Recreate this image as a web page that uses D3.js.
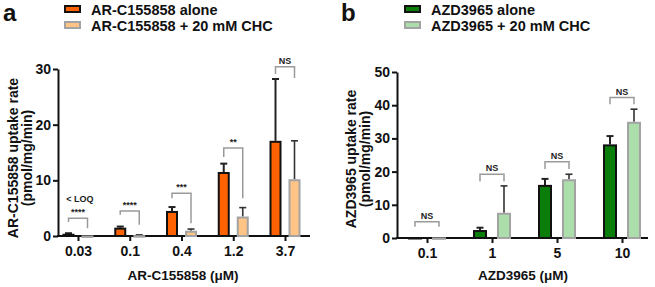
<!DOCTYPE html>
<html>
<head>
<meta charset="utf-8">
<script src="https://cdn.jsdelivr.net/npm/d3@7"></script>
<style>
  body { margin: 0; background: #fff; }
  svg { display: block; font-family: "Liberation Sans", Arial, sans-serif; font-weight: bold; }
</style>
</head>
<body>
<svg id="drawing_region" width="655" height="287"></svg>
<script>
// panel a : AR-C155858
const arCats = ['0.03', '0.1', '0.4', '1.2', '3.7'];
const arAlone = [0.4, 1.5, 4.5, 11.5, 17.1];
const arAloneErr = [0.1, 0.2, 0.7, 1.5, 11.1];
const arChc = [0.1, 0.15, 0.95, 3.5, 10.2];
const arChcErr = [0, 0.05, 0.3, 1.6, 6.9];
const arSig = ['****', '****', '***', '**', 'NS'];
const arSigLevel = [3.2, 4.5, 7.7, 15.8, 30.4];
const arSigLeft = [2.5, 3.8, 6.8, 14.2, 29.1];
const arSigRight = [1.4, 2.0, 2.3, 6.8, 28.4];
const arTicks = [0, 10, 20, 30];

// panel b : AZD3965
const azCats = ['0.1', '1', '5', '10'];
const azAlone = [0.3, 2.4, 16.0, 28.2];
const azAloneErr = [0, 0.7, 1.8, 2.5];
const azChc = [0.2, 7.6, 17.7, 35.0];
const azChcErr = [0, 8.1, 1.5, 3.8];
const azSig = ['NS', 'NS', 'NS', 'NS'];
const azSigLevel = [4.9, 19.2, 23.0, 42.3];
const azSigLeft = [3.4, 17.0, 20.8, 40.3];
const azSigRight = [3.4, 17.0, 20.8, 40.3];
const azTicks = [0, 10, 20, 30, 40, 50];

class BarPanel {
    constructor( config ) {
        this.c = config;
        this.svg = d3.select('#drawing_region');
        this.render();
    }
    render() {
        let self = this;
        const c = self.c;
        const g = self.svg.append('g');

        const xscale = d3.scalePoint().domain(c.cats).range(c.xRange);
        const yscale = d3.scaleLinear().domain(c.yDomain).range(c.yRange);

        // y axis
        const yaxis = d3.axisLeft(yscale).tickValues(c.ticks).tickSize(5).tickSizeOuter(0).tickPadding(2);
        const yg = g.append('g').attr('transform', `translate(${c.axisX},0)`).call(yaxis);
        yg.selectAll('path, line').attr('stroke', '#111').attr('stroke-width', 2);
        yg.selectAll('text').attr('font-size', 14).attr('fill', '#111');

        // x axis
        const xaxis = d3.axisBottom(xscale).tickSize(5).tickPadding(5);
        const xg = g.append('g').attr('transform', `translate(0,${c.yRange[0]})`).call(xaxis);
        xg.select('.domain').remove();
        xg.selectAll('line').attr('stroke', '#111').attr('stroke-width', 2);
        xg.selectAll('text').attr('font-size', 14).attr('fill', '#111');
        g.append('line')
            .attr('x1', c.axisX - 1).attr('x2', c.axisEnd)
            .attr('y1', c.yRange[0]).attr('y2', c.yRange[0])
            .attr('stroke', '#111').attr('stroke-width', 2);

        const series = [
            { vals: c.alone, errs: c.aloneErr, fill: c.fill1, stroke: '#111', dx: -c.offset, ew: 2, ec: '#222' },
            { vals: c.chc, errs: c.chcErr, fill: c.fill2, stroke: '#a3a3a3', dx: c.offset, ew: 1.6, ec: '#333' }
        ];

        series.forEach( s => {
            const data = c.cats.map( (k, i) => ({ k: k, v: s.vals[i], e: s.errs[i] }) );
            // error bars
            const eb = g.append('g').selectAll('g').data(data.filter(d => d.e > 0)).enter().append('g');
            eb.append('line')
                .attr('x1', d => xscale(d.k) + s.dx).attr('x2', d => xscale(d.k) + s.dx)
                .attr('y1', d => yscale(d.v)).attr('y2', d => yscale(d.v + d.e))
                .attr('stroke', s.ec).attr('stroke-width', s.ew);
            eb.append('line')
                .attr('x1', d => xscale(d.k) + s.dx - 3.5).attr('x2', d => xscale(d.k) + s.dx + 3.5)
                .attr('y1', d => yscale(d.v + d.e)).attr('y2', d => yscale(d.v + d.e))
                .attr('stroke', s.ec).attr('stroke-width', s.ew);
            // bars
            g.append('g').selectAll('rect').data(data).enter().append('rect')
                .attr('x', d => xscale(d.k) + s.dx - c.barW / 2 + 1)
                .attr('width', c.barW - 2)
                .attr('y', d => yscale(d.v) + 1)
                .attr('height', d => Math.max(0.5, yscale(0) - yscale(d.v) - 1))
                .attr('fill', s.fill)
                .attr('stroke', s.stroke)
                .attr('stroke-width', 2);
        });

        // significance brackets
        const sig = c.cats.map( (k, i) => ({ k: k, t: c.sig[i], lv: c.sigLevel[i], l: c.sigLeft[i], r: c.sigRight[i] }) );
        const sg = g.append('g').selectAll('g').data(sig).enter().append('g');
        sg.append('path')
            .attr('d', d => {
                const x1 = xscale(d.k) - c.offset, x2 = xscale(d.k) + c.offset;
                return `M${x1},${yscale(d.l)}V${yscale(d.lv)}H${x2}V${yscale(d.r)}`;
            })
            .attr('fill', 'none').attr('stroke', '#9a9a9a').attr('stroke-width', 1.5);
        sg.append('text')
            .attr('x', d => xscale(d.k))
            .attr('y', d => yscale(d.lv) - 3)
            .attr('text-anchor', 'middle')
            .attr('font-size', 9)
            .attr('fill', '#222')
            .text(d => d.t);

        if (c.loq) {
            g.append('text')
                .attr('x', xscale(c.cats[0]) + 2)
                .attr('y', yscale(c.loq) + 3)
                .attr('text-anchor', 'middle')
                .attr('font-size', 9)
                .attr('fill', '#222')
                .text('< LOQ');
        }

        // axis titles
        const yc = c.yLabelY;
        c.yLabel.forEach( (t, i) => {
            g.append('text')
                .attr('transform', `translate(${c.yLabelX[i]},${yc}) rotate(-90)`)
                .attr('text-anchor', 'middle')
                .attr('font-size', 14)
                .attr('fill', '#111')
                .text(t);
        });
        g.append('text')
            .attr('x', c.xLabelX).attr('y', 280)
            .attr('text-anchor', 'middle')
            .attr('font-size', 13.5)
            .attr('fill', '#111')
            .text(c.xLabel);

        // panel letter
        g.append('text')
            .attr('x', c.letterX).attr('y', 21)
            .attr('font-size', 24)
            .attr('fill', '#111')
            .text(c.letter);

        // legend
        c.legend.forEach( (t, i) => {
            g.append('rect')
                .attr('x', c.legendX + 1).attr('y', 6 + i * 16)
                .attr('width', 15).attr('height', 6)
                .attr('fill', i === 0 ? c.fill1 : c.fill2)
                .attr('stroke', i === 0 ? '#111' : '#a3a3a3')
                .attr('stroke-width', 2);
            g.append('text')
                .attr('x', c.legendX + 27).attr('y', 14.5 + i * 16)
                .attr('font-size', 14.5)
                .attr('fill', '#111')
                .text(t);
        });
    }
}

new BarPanel({
    cats: arCats, alone: arAlone, aloneErr: arAloneErr, chc: arChc, chcErr: arChcErr,
    sig: arSig, sigLevel: arSigLevel, sigLeft: arSigLeft, sigRight: arSigRight,
    ticks: arTicks, yDomain: [0, 30], yRange: [236, 69],
    xRange: [78, 285], axisX: 58, axisEnd: 310, barW: 12, offset: 9.5,
    fill1: '#ff6200', fill2: '#ffc486', loq: 6.6,
    yLabel: ['AR-C155858 uptake rate', '(pmol/mg/min)'], yLabelX: [18, 32], yLabelY: 158,
    xLabel: 'AR-C155858 (\u03bcM)', xLabelX: 183,
    letter: 'a', letterX: 3,
    legend: ['AR-C155858 alone', 'AR-C155858 + 20 mM CHC'], legendX: 64
});

new BarPanel({
    cats: azCats, alone: azAlone, aloneErr: azAloneErr, chc: azChc, chcErr: azChcErr,
    sig: azSig, sigLevel: azSigLevel, sigLeft: azSigLeft, sigRight: azSigRight,
    ticks: azTicks, yDomain: [0, 50], yRange: [238, 72],
    xRange: [427, 622], axisX: 397, axisEnd: 648, barW: 14, offset: 12,
    fill1: '#0a7d0a', fill2: '#abdeab', loq: null,
    yLabel: ['AZD3965 uptake rate', '(pmol/mg/min)'], yLabelX: [356, 370], yLabelY: 159,
    xLabel: 'AZD3965 (\u03bcM)', xLabelX: 523,
    letter: 'b', letterX: 341,
    legend: ['AZD3965 alone', 'AZD3965 + 20 mM CHC'], legendX: 404
});
</script>
</body>
</html>
